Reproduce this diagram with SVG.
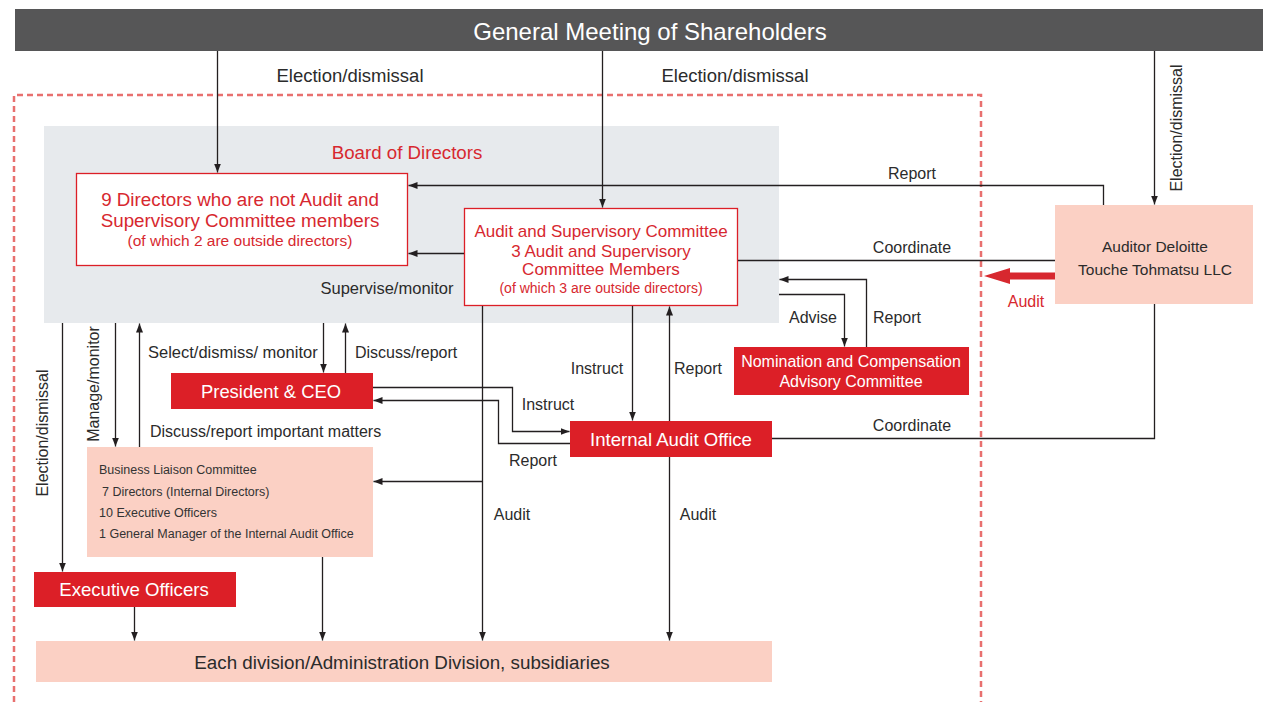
<svg xmlns="http://www.w3.org/2000/svg" width="1263" height="702" viewBox="0 0 1263 702">
<defs>
<marker id="ah" markerUnits="userSpaceOnUse" markerWidth="10" markerHeight="8" refX="9" refY="3.5" orient="auto">
<path d="M0,0 L9,3.5 L0,7 z" fill="#231f20"/>
</marker>
<style>
text{font-family:"Liberation Sans",Arial,Helvetica,sans-serif;}
.lbl{font-size:16px;fill:#2b2b2b;}
.lblc{font-size:16px;fill:#2b2b2b;text-anchor:middle;}
.red{fill:#dc1f27;}
.pink{fill:#fbd0c4;}
.wt{fill:#fff;text-anchor:middle;font-size:18px;}
.rt{fill:#d7282f;text-anchor:middle;}
.con{fill:none;stroke:#231f20;stroke-width:1.3;}
.arr{marker-end:url(#ah);}
</style>
</defs>
<rect width="1263" height="702" fill="#fff"/>

<g id="board-bg">
<rect x="44" y="126" width="735" height="197" fill="#e7eaed"/>
<text x="407" y="158.5" class="rt" style="font-size:18.7px">Board of Directors</text>
</g>

<g id="boundary">
<path d="M14,702 V95 H981 V702" fill="none" stroke="#e8706f" stroke-width="2.5" stroke-dasharray="6 4"/>
</g>

<g id="shareholders">
<rect x="15" y="9" width="1248" height="42" fill="#565657"/>
<text x="650" y="39.5" style="font-size:24px;fill:#fff;text-anchor:middle">General Meeting of Shareholders</text>
</g>

<g id="directors">
<rect x="76.5" y="173.5" width="331" height="92" fill="#fff" stroke="#dc1f27" stroke-width="1.3"/>
<text x="240" y="205.5" class="rt" style="font-size:18.8px">9 Directors who are not Audit and</text>
<text x="240" y="226.5" class="rt" style="font-size:18.8px">Supervisory Committee members</text>
<text x="240" y="245.5" class="rt" style="font-size:15.5px">(of which 2 are outside directors)</text>
</g>

<g id="audit-committee">
<rect x="464.5" y="208.5" width="273" height="97" fill="#fff" stroke="#dc1f27" stroke-width="1.3"/>
<text x="601" y="237" class="rt" style="font-size:17px">Audit and Supervisory Committee</text>
<text x="601" y="257" class="rt" style="font-size:17px">3 Audit and Supervisory</text>
<text x="601" y="275" class="rt" style="font-size:17px">Committee Members</text>
<text x="601" y="293" class="rt" style="font-size:14px">(of which 3 are outside directors)</text>
</g>

<g id="auditor">
<rect x="1055" y="205" width="198" height="99" class="pink"/>
<text x="1155" y="251.5" class="lblc" style="font-size:15.5px">Auditor Deloitte</text>
<text x="1155" y="274.5" class="lblc" style="font-size:15.5px">Touche Tohmatsu LLC</text>
</g>

<g id="nomination">
<rect x="734" y="347" width="235" height="48" class="red"/>
<text x="851" y="366.5" class="wt" style="font-size:16px">Nomination and Compensation</text>
<text x="851" y="386.5" class="wt" style="font-size:16px">Advisory Committee</text>
</g>

<g id="president">
<rect x="171" y="373" width="202" height="36" class="red"/>
<text x="271" y="397.5" class="wt" style="font-size:18.4px">President &amp; CEO</text>
</g>

<g id="internal-audit">
<rect x="570" y="421" width="202" height="36" class="red"/>
<text x="671" y="445.5" class="wt" style="font-size:18.6px">Internal Audit Office</text>
</g>

<g id="business-liaison">
<rect x="87" y="447" width="286" height="110" class="pink"/>
<text x="99" y="474" style="font-size:12.5px;fill:#333">Business Liaison Committee</text>
<text x="102" y="496" style="font-size:12.5px;fill:#333">7 Directors (Internal Directors)</text>
<text x="99" y="517" style="font-size:12.5px;fill:#333">10 Executive Officers</text>
<text x="99" y="538" style="font-size:12.5px;fill:#333">1 General Manager of the Internal Audit Office</text>
</g>

<g id="executive-officers">
<rect x="34" y="572" width="202" height="35" class="red"/>
<text x="134" y="595.5" class="wt" style="font-size:18.6px">Executive Officers</text>
</g>

<g id="divisions">
<rect x="36" y="641" width="736" height="41" class="pink"/>
<text x="402" y="668.5" style="font-size:18.8px;fill:#2b2b2b;text-anchor:middle">Each division/Administration Division, subsidiaries</text>
</g>

<g id="connectors">
<path class="con arr" d="M217.5,51 V172.5"/>
<path class="con arr" d="M602.5,51 V207.5"/>
<path class="con arr" d="M1154.5,51 V204.5"/>
<path class="con arr" d="M1103.5,205 V185.5 H408.5"/>
<path class="con arr" d="M464,253.5 H408.5"/>
<path class="con" d="M738,260.5 H1055"/>
<path class="con" d="M1154.5,304 V438.5 H772"/>
<path class="con arr" d="M779,294.5 H844.5 V346.5"/>
<path class="con arr" d="M866.5,347 V279.5 H779.5"/>
<path class="con arr" d="M323.5,323 V372.5"/>
<path class="con arr" d="M345.5,373 V323.5"/>
<path class="con arr" d="M373,387.5 H512.5 V431.5 H569.5"/>
<path class="con arr" d="M570,443.5 H498.5 V400.5 H373.5"/>
<path class="con arr" d="M632.5,306 V420.5"/>
<path class="con arr" d="M669.5,421 V306.5"/>
<path class="con arr" d="M669.5,457 V640.5"/>
<path class="con arr" d="M482.5,306 V640.5"/>
<path class="con arr" d="M482.5,481.5 H373.5"/>
<path class="con arr" d="M62.5,323 V571.5"/>
<path class="con arr" d="M115.5,323 V446.5"/>
<path class="con arr" d="M139.5,447 V323.5"/>
<path class="con arr" d="M134.5,607 V640.5"/>
<path class="con arr" d="M322.5,557 V640.5"/>
<path d="M1055,272.5 H1010 V268 L984,276 L1010,284 V279.5 H1055 z" fill="#d7282f"/>
</g>

<g id="labels">
<text x="350" y="81.5" style="font-size:18.5px;fill:#2b2b2b;text-anchor:middle">Election/dismissal</text>
<text x="735" y="81.5" style="font-size:18.5px;fill:#2b2b2b;text-anchor:middle">Election/dismissal</text>
<text transform="translate(1182,128) rotate(-90)" class="lblc">Election/dismissal</text>
<text transform="translate(48,433) rotate(-90)" class="lblc">Election/dismissal</text>
<text transform="translate(99,384) rotate(-90)" class="lblc">Manage/monitor</text>
<text x="387" y="294" class="lblc" style="font-size:16.5px">Supervise/monitor</text>
<text x="912" y="179" class="lblc">Report</text>
<text x="912" y="253" class="lblc">Coordinate</text>
<text x="1026" y="307" class="lblc" style="fill:#d7282f">Audit</text>
<text x="813" y="323" class="lblc">Advise</text>
<text x="897" y="323" class="lblc">Report</text>
<text x="148" y="358" class="lbl" style="font-size:16.5px">Select/dismiss/ monitor</text>
<text x="355" y="358" class="lbl">Discuss/report</text>
<text x="597" y="373.5" class="lblc">Instruct</text>
<text x="698" y="373.5" class="lblc">Report</text>
<text x="548" y="409.5" class="lblc">Instruct</text>
<text x="533" y="465.5" class="lblc">Report</text>
<text x="912" y="430.5" class="lblc">Coordinate</text>
<text x="150" y="436.5" class="lbl">Discuss/report important matters</text>
<text x="512" y="519.5" class="lblc">Audit</text>
<text x="698" y="519.5" class="lblc">Audit</text>
</g>
</svg>
